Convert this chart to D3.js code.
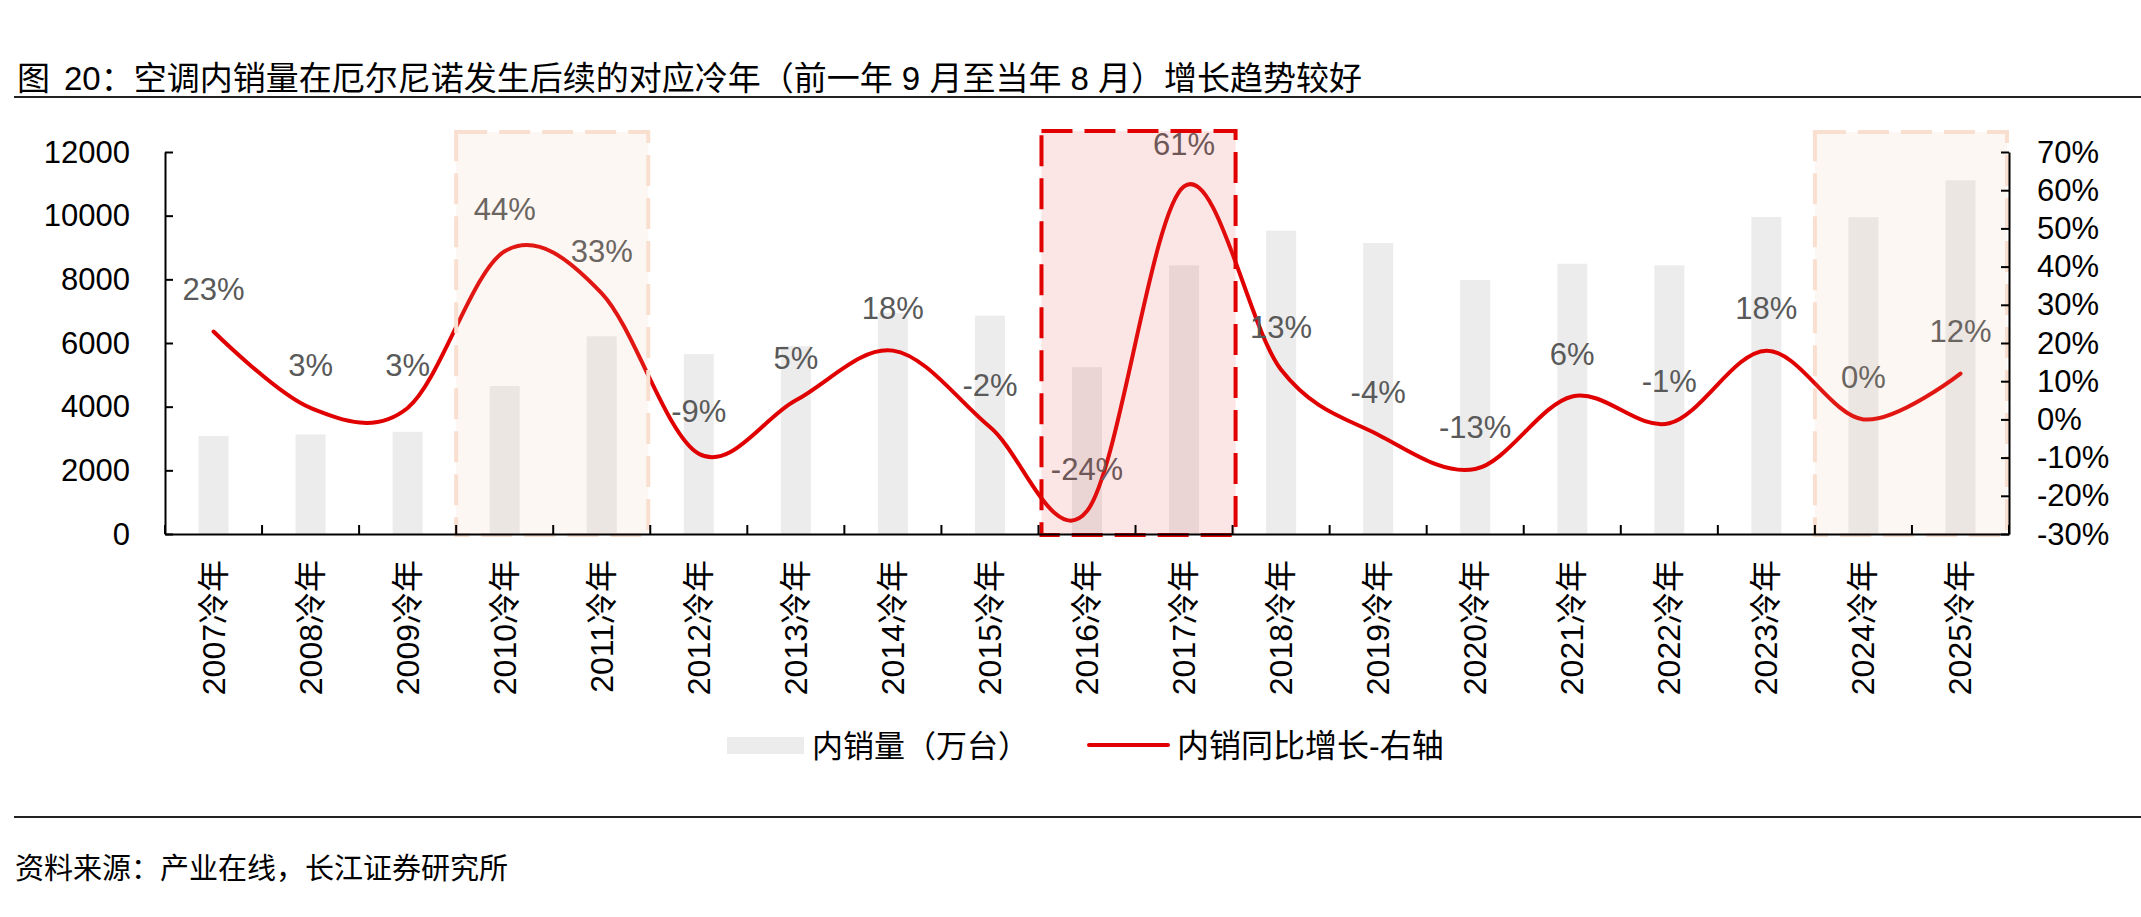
<!DOCTYPE html>
<html>
<head>
<meta charset="utf-8">
<script src="https://cdn.jsdelivr.net/npm/d3@7"></script>
<style>
  body { margin: 0; background: #fff; }
  svg { display: block; font-family: "Liberation Sans", Arial, "Noto Sans CJK SC", sans-serif; }
</style>
</head>
<body>
<div id="chart"></div>
<script>
// data
var years = ['2007冷年','2008冷年','2009冷年','2010冷年','2011冷年','2012冷年','2013冷年','2014冷年','2015冷年','2016冷年',
             '2017冷年','2018冷年','2019冷年','2020冷年','2021冷年','2022冷年','2023冷年','2024冷年','2025冷年'];
var sales = [3080, 3130, 3210, 4650, 6210, 5650, 5900, 6950, 6860, 5240, 8440, 9530, 9140, 7980, 8490, 8440, 9960, 9950, 11110];
var growth = [23, 3, 3, 44, 33, -9, 5, 18, -2, -24, 61, 13, -4, -13, 6, -1, 18, 0, 12];
var leftTicks = [0, 2000, 4000, 6000, 8000, 10000, 12000];
var rightTicks = [-30, -20, -10, 0, 10, 20, 30, 40, 50, 60, 70];
var boxes = [
  {from: '2010冷年', to: '2011冷年', kind: 'soft'},
  {from: '2016冷年', to: '2017冷年', kind: 'hot'},
  {from: '2024冷年', to: '2025冷年', kind: 'soft'}
];
var titleHead = '图';
var titleText = '20：空调内销量在厄尔尼诺发生后续的对应冷年（前一年 9 月至当年 8 月）增长趋势较好';
var sourceText = '资料来源：产业在线，长江证券研究所';

var W = 2141, H = 917;
var plotL = 165, plotR = 2009, plotT = 152, plotB = 534;

var svg = d3.select('#chart').append('svg').attr('width', W).attr('height', H);
svg.append('rect').attr('width', W).attr('height', H).attr('fill', '#fff');

// title + rules
var tt = svg.append('text').attr('x', 17).attr('y', 90).attr('font-size', 33).attr('fill', '#000');
tt.append('tspan').text(titleHead);
tt.append('tspan').attr('dx', 14).text(titleText);
svg.append('line').attr('x1', 14).attr('x2', W).attr('y1', 97).attr('y2', 97).attr('stroke', '#222').attr('stroke-width', 2);
svg.append('line').attr('x1', 14).attr('x2', W).attr('y1', 817).attr('y2', 817).attr('stroke', '#222').attr('stroke-width', 2);
svg.append('text').attr('x', 15).attr('y', 879).attr('font-size', 29).attr('fill', '#000').text(sourceText);

var x = d3.scaleBand().domain(years).range([plotL, plotR]).paddingInner(0).paddingOuter(0);
var y = d3.scaleLinear().domain([0, 12000]).range([plotB, plotT]);
var y2 = d3.scaleLinear().domain([-30, 70]).range([plotB, plotT]);
var barW = 30;

// bars
svg.append('g').selectAll('rect').data(sales).enter().append('rect')
  .attr('x', (d, i) => x(years[i]) + x.bandwidth() / 2 - barW / 2)
  .attr('y', d => y(d))
  .attr('width', barW)
  .attr('height', d => y(0) - y(d))
  .attr('fill', '#ececec');

// growth line
var line = d3.line()
  .x((d, i) => x(years[i]) + x.bandwidth() / 2)
  .y(d => y2(d))
  .curve(d3.curveCardinal.tension(0));
svg.append('path').datum(growth).attr('d', line)
  .attr('fill', 'none').attr('stroke', '#e00000').attr('stroke-width', 4).attr('stroke-linecap', 'round');

// data labels
svg.append('g').selectAll('text').data(growth).enter().append('text')
  .attr('x', (d, i) => x(years[i]) + x.bandwidth() / 2)
  .attr('y', d => y2(d) - 42)
  .attr('text-anchor', 'middle')
  .attr('dominant-baseline', 'central')
  .attr('font-size', 31)
  .attr('fill', '#595959')
  .text(d => d + '%');

// highlight boxes over the plot
boxes.forEach(function(b) {
  var bx0 = x(b.from), bx1 = x(b.to) + x.bandwidth();
  var hot = b.kind === 'hot';
  var by = hot ? 131 : 132;
  svg.append('rect')
    .attr('x', bx0 + (hot ? 3 : 0)).attr('y', by)
    .attr('width', bx1 - bx0 - (hot ? 0 : 2)).attr('height', plotB - by + 1)
    .attr('fill', hot ? 'rgba(238,80,80,0.15)' : 'rgba(240,190,160,0.12)')
    .attr('stroke', hot ? '#e00000' : '#f9dfcf')
    .attr('stroke-width', 4)
    .attr('stroke-dasharray', '31,12');
});

// axes
var axL = svg.append('g').attr('transform', `translate(${plotL},0)`)
  .call(d3.axisRight(y).tickValues(leftTicks).tickSize(8).tickSizeOuter(0).tickFormat(''));
var axR = svg.append('g').attr('transform', `translate(${plotR},0)`)
  .call(d3.axisLeft(y2).tickValues(rightTicks).tickSize(8).tickSizeOuter(0).tickFormat(''));
var axB = svg.append('g').attr('transform', `translate(0,${plotB})`)
  .call(d3.axisTop(x).tickSize(0).tickFormat(''));
[axL, axR, axB].forEach(g => {
  g.select('.domain').attr('stroke', '#000').attr('stroke-width', 2);
  g.selectAll('.tick line').attr('stroke', '#000').attr('stroke-width', 2);
});
// category boundary ticks
svg.append('g').selectAll('line').data(years.concat(['end'])).enter().append('line')
  .attr('x1', (d, i) => i < years.length ? x(d) : plotR)
  .attr('x2', (d, i) => i < years.length ? x(d) : plotR)
  .attr('y1', plotB).attr('y2', plotB - 9)
  .attr('stroke', '#000').attr('stroke-width', 2);

// tick labels
svg.append('g').selectAll('text').data(leftTicks).enter().append('text')
  .attr('x', 130).attr('y', d => y(d))
  .attr('text-anchor', 'end').attr('dominant-baseline', 'central')
  .attr('font-size', 31).attr('fill', '#000').text(d => d);
svg.append('g').selectAll('text').data(rightTicks).enter().append('text')
  .attr('x', 2037).attr('y', d => y2(d))
  .attr('text-anchor', 'start').attr('dominant-baseline', 'central')
  .attr('font-size', 31).attr('fill', '#000').text(d => d + '%');
svg.append('g').selectAll('text').data(years).enter().append('text')
  .attr('transform', d => `translate(${x(d) + x.bandwidth() / 2},560) rotate(-90)`)
  .attr('text-anchor', 'end').attr('dominant-baseline', 'central')
  .attr('font-size', 32).attr('fill', '#000').text(d => d);

// legend
var lg = svg.append('g');
lg.append('rect').attr('x', 727).attr('y', 737).attr('width', 77).attr('height', 17).attr('fill', '#ececec');
lg.append('text').attr('x', 812).attr('y', 746).attr('dominant-baseline', 'central')
  .attr('font-size', 31).attr('fill', '#000').text('内销量（万台）');
lg.append('line').attr('x1', 1089).attr('x2', 1168).attr('y1', 745).attr('y2', 745)
  .attr('stroke', '#e00000').attr('stroke-width', 4).attr('stroke-linecap', 'round');
lg.append('text').attr('x', 1177).attr('y', 746).attr('dominant-baseline', 'central')
  .attr('font-size', 32).attr('fill', '#000').text('内销同比增长-右轴');
</script>
</body>
</html>
